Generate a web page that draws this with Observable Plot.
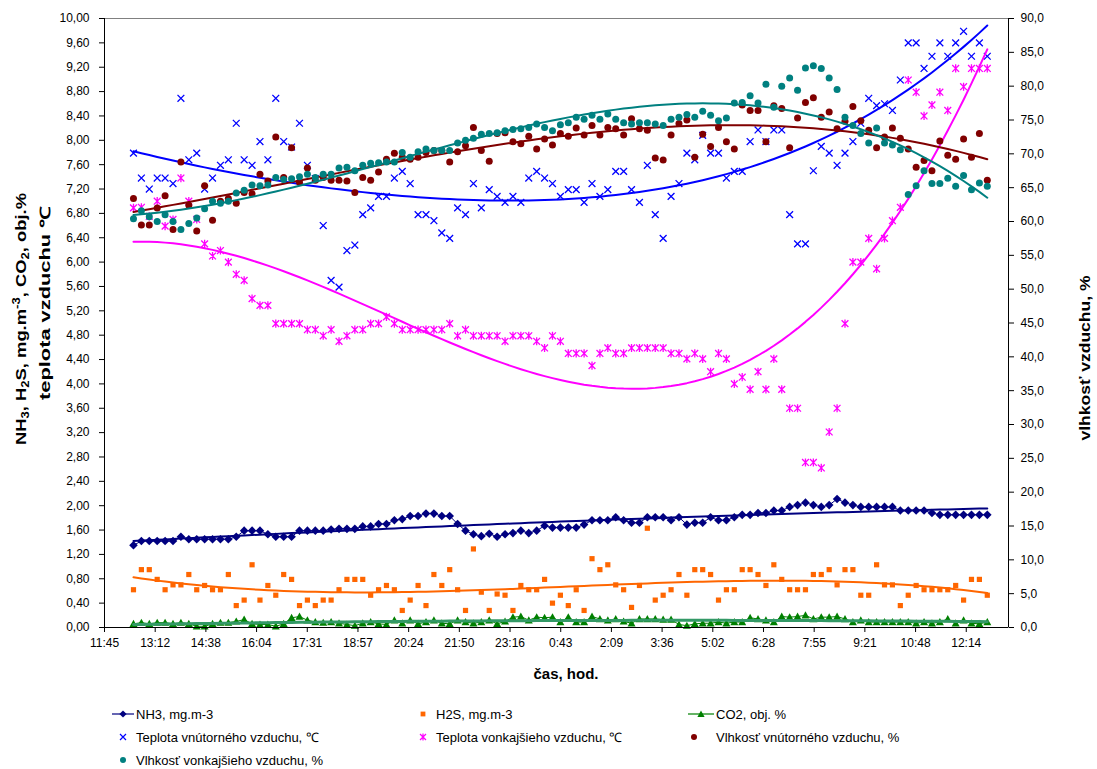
<!DOCTYPE html>
<html><head><meta charset="utf-8">
<script src="https://cdn.jsdelivr.net/npm/d3@7"></script>
<script src="https://cdn.jsdelivr.net/npm/@observablehq/plot@0.6"></script>
<style>
body{margin:0;background:#fff;}
#wrap{position:relative;width:1097px;height:769px;background:#fff;font-family:"Liberation Sans",Arial,sans-serif;}
#wrap svg{display:block;}
</style></head><body><div id="wrap"></div>
<script>
// ---- time axis (Excel day fractions) ----
const xTicks = [0.49,0.55,0.61,0.67,0.73,0.79,0.85,0.91,0.97,1.03,1.09,1.15,1.21,1.27,1.33,1.39,1.45,1.51];
const xTickLabels = ["11:45","13:12","14:38","16:04","17:31","18:57","20:24","21:50","23:16","0:43","2:09","3:36","5:02","6:28","7:55","9:21","10:48","12:14"];
const leftTicks = [0,0.4,0.8,1.2,1.6,2,2.4,2.8,3.2,3.6,4,4.4,4.8,5.2,5.6,6,6.4,6.8,7.2,7.6,8,8.4,8.8,9.2,9.6,10];
const humTicks = [0,5,10,15,20,25,30,35,40,45,50,55,60,65,70,75,80,85,90];
const firstTime = 0.5243, lastTime = 1.5349, nPoints = 109;

// ---- series ----
const nh3 = [1.35,1.42,1.42,1.42,1.42,1.42,1.49,1.45,1.45,1.45,
1.45,1.45,1.45,1.49,1.59,1.59,1.59,1.53,1.49,1.49,
1.49,1.59,1.59,1.59,1.59,1.61,1.62,1.62,1.62,1.66,
1.66,1.70,1.70,1.76,1.78,1.83,1.83,1.87,1.87,1.83,
1.83,1.70,1.59,1.53,1.50,1.54,1.49,1.53,1.55,1.59,
1.55,1.59,1.67,1.64,1.64,1.64,1.64,1.69,1.76,1.76,
1.76,1.81,1.76,1.72,1.72,1.81,1.81,1.81,1.76,1.81,
1.69,1.72,1.72,1.81,1.76,1.76,1.81,1.85,1.85,1.88,
1.88,1.92,1.92,1.98,2.01,2.05,2.01,1.98,2.01,2.11,
2.05,2.01,1.98,1.98,1.98,1.98,1.98,1.92,1.92,1.92,
1.92,1.88,1.85,1.85,1.85,1.85,1.85,1.85,1.85];
const h2s = [0.62,0.95,0.95,0.79,0.62,0.70,0.70,0.87,0.62,0.69,
0.62,0.62,0.87,0.36,0.45,1.03,0.45,0.69,0.53,0.87,
0.79,0.36,0.45,0.36,0.45,0.45,0.62,0.79,0.79,0.79,
0.53,0.62,0.69,0.62,0.28,0.45,0.69,0.36,0.87,0.69,
0.95,0.62,0.28,1.29,0.58,0.28,0.55,0.53,0.28,0.69,
0.62,0.62,0.79,0.40,0.53,0.36,0.62,0.28,1.13,0.95,
1.03,0.70,0.62,0.33,0.69,1.63,0.45,0.53,0.62,0.87,
0.53,0.95,0.95,0.87,0.45,0.62,0.62,0.95,0.95,0.87,
0.69,1.03,0.79,0.62,0.62,0.62,0.87,0.87,0.95,0.70,
0.95,0.95,0.53,0.53,1.03,0.70,0.70,0.36,0.53,0.69,
0.62,0.62,0.62,0.62,0.69,0.45,0.79,0.79,0.53];
const co2 = [0.06,0.08,0.06,0.08,0.08,0.06,0.08,0.06,0.02,0.02,
0.06,0.08,0.08,0.10,0.13,0.06,0.05,0.05,0.02,0.06,
0.16,0.18,0.12,0.09,0.08,0.09,0.07,0.05,0.03,0.07,
0.09,0.06,0.05,0.12,0.07,0.12,0.06,0.09,0.12,0.07,
0.06,0.12,0.09,0.07,0.09,0.12,0.06,0.10,0.17,0.18,
0.12,0.17,0.16,0.17,0.09,0.17,0.09,0.09,0.18,0.14,
0.12,0.14,0.10,0.07,0.14,0.14,0.14,0.13,0.13,0.05,
0.03,0.06,0.07,0.07,0.09,0.07,0.09,0.09,0.16,0.14,
0.12,0.09,0.18,0.17,0.18,0.20,0.14,0.17,0.17,0.18,
0.14,0.09,0.12,0.09,0.09,0.09,0.09,0.09,0.09,0.07,
0.09,0.07,0.09,0.14,0.07,0.12,0.07,0.06,0.09];
const tempIn = [7.79,7.38,7.20,7.38,7.38,7.29,8.69,7.68,7.79,7.20,
7.38,7.59,7.68,8.28,7.68,7.59,7.98,7.68,8.69,7.98,
7.89,8.28,7.59,7.37,6.60,5.70,5.59,6.19,6.28,6.78,
6.89,7.08,7.08,7.38,7.49,7.29,6.78,6.78,6.68,6.48,
6.39,6.89,6.78,7.29,6.89,7.19,7.08,6.98,7.08,6.98,
7.38,7.49,7.38,7.29,7.08,7.19,7.19,6.98,7.29,7.08,
7.19,7.49,7.49,7.19,6.98,7.59,6.78,6.39,7.08,7.29,
7.79,7.68,8.08,7.79,7.79,7.38,7.49,7.49,7.98,8.17,
7.98,8.17,8.17,6.78,6.30,6.30,7.50,7.90,7.79,7.59,
7.79,7.98,8.28,8.69,8.57,8.60,8.49,8.99,9.60,9.60,
9.18,9.38,9.60,9.38,9.60,9.79,9.38,9.60,9.38];
const tempOut = [6.89,6.90,6.75,7.00,6.59,6.70,7.38,7.00,6.70,6.30,
6.10,6.19,6.00,5.80,5.70,5.40,5.29,5.29,4.99,4.99,
4.99,4.99,4.89,4.89,4.79,4.89,4.70,4.79,4.89,4.89,
4.99,4.99,5.10,4.99,4.89,4.89,4.89,4.89,4.89,4.89,
4.99,4.79,4.89,4.79,4.79,4.79,4.79,4.70,4.79,4.79,
4.79,4.70,4.59,4.79,4.70,4.50,4.50,4.50,4.30,4.50,
4.59,4.50,4.50,4.59,4.59,4.59,4.59,4.59,4.50,4.50,
4.41,4.50,4.41,4.20,4.50,4.41,4.00,4.11,3.91,4.20,
3.91,4.41,3.91,3.60,3.60,2.71,2.71,2.62,3.21,3.60,
4.99,6.00,6.00,6.39,5.89,6.39,6.68,6.90,8.99,8.79,
8.40,8.58,8.79,8.49,9.18,8.88,9.18,9.18,9.18];
const humIn = [63.4,59.5,59.5,62.0,63.8,58.8,68.8,62.4,58.6,65.3,
60.2,63.0,63.4,62.7,64.3,64.1,67.0,66.0,72.5,66.5,
70.9,65.8,67.9,66.1,66.5,66.1,66.1,66.0,64.3,66.5,
66.1,67.3,69.2,70.1,69.5,69.2,69.5,70.2,70.5,70.5,
68.8,70.3,71.2,73.9,70.5,68.9,73.0,73.1,71.8,71.5,
72.6,70.7,72.2,71.3,73.0,72.6,73.8,72.8,74.2,72.8,
73.9,73.7,72.8,75.2,73.7,73.5,69.4,69.1,72.8,74.5,
75.0,69.5,72.9,71.1,73.9,71.8,70.7,77.2,76.4,76.4,
71.8,77.1,76.7,70.9,75.3,77.6,78.3,75.4,76.2,73.7,
74.8,77.0,74.9,73.5,70.9,72.5,73.8,72.3,70.7,68.0,
69.0,67.5,71.9,69.8,69.2,72.2,69.5,73.0,66.1];
const humOut = [60.4,61.6,60.7,60.0,61.0,60.0,58.8,59.7,60.5,61.9,
63.0,62.7,63.0,64.2,64.6,65.4,65.3,65.4,66.5,66.2,
66.3,66.6,67.0,66.5,67.0,67.0,67.9,68.0,67.5,68.3,
68.6,68.7,68.8,68.8,70.2,69.5,70.3,70.7,70.5,70.5,
70.5,71.6,72.0,72.3,72.9,73.0,73.1,73.4,73.6,73.7,
73.9,74.4,73.9,73.4,74.3,74.6,75.4,75.1,75.7,75.1,
75.9,75.1,74.6,74.4,74.6,74.6,74.4,74.2,75.1,75.4,
75.8,75.4,76.3,75.7,74.9,75.3,77.5,77.6,78.6,77.5,
80.3,76.9,80.0,81.2,79.4,82.7,83.0,82.6,81.2,79.5,
75.4,74.2,73.0,71.6,73.8,71.6,71.3,70.6,64.0,65.3,
67.5,65.6,65.6,66.4,65.2,66.8,64.7,65.7,65.2];

// ---- colours ----
const C = {nh3:"#000080", h2s:"#FF6600", co2:"#008000", co2Trend:"#339966",
  tIn:"#0000FF", tOut:"#FF00FF", hIn:"#800000", hOut:"#008080"};

// ---- table ----
const times = d3.range(nPoints).map(i => firstTime + i * (lastTime - firstTime) / (nPoints - 1));
const rows = times.map((t, i) => ({t, nh3: nh3[i], h2s: h2s[i], co2: co2[i],
  tIn: tempIn[i], tOut: tempOut[i], hIn: humIn[i], hOut: humOut[i]}));

// least-squares polynomial trendline (as Excel does)
function polyFit(xs, ys, deg) {
  const mx = d3.mean(xs), sx = (d3.max(xs) - d3.min(xs)) / 2;
  const m = deg + 1;
  const A = Array.from({length: m}, () => new Array(m + 1).fill(0));
  xs.forEach((x, k) => {
    const u = (x - mx) / sx;
    const p = d3.range(m).map(j => u ** j);
    for (let r = 0; r < m; r++) {
      for (let c = 0; c < m; c++) A[r][c] += p[r] * p[c];
      A[r][m] += p[r] * ys[k];
    }
  });
  for (let c = 0; c < m; c++) {
    let piv = c;
    for (let r = c + 1; r < m; r++) if (Math.abs(A[r][c]) > Math.abs(A[piv][c])) piv = r;
    [A[c], A[piv]] = [A[piv], A[c]];
    for (let r = 0; r < m; r++) if (r !== c) {
      const f = A[r][c] / A[c][c];
      for (let k = c; k <= m; k++) A[r][k] -= f * A[c][k];
    }
  }
  const coef = A.map((row, i) => row[m] / row[i]);
  return x => { const u = (x - mx) / sx; return coef.reduce((s, a, j) => s + a * u ** j, 0); };
}
function trend(key, deg) {
  const f = polyFit(times, rows.map(d => d[key]), deg);
  return times.map(t => ({t, v: f(t)}));
}
const trNH3 = trend("nh3", 2), trH2S = trend("h2s", 3), trCO2 = trend("co2", 2),
      trTIn = trend("tIn", 4), trTOut = trend("tOut", 3),
      trHIn = trend("hIn", 3), trHOut = trend("hOut", 3);

// ---- Excel-like marker symbols ----
const R = s => Math.sqrt(s / Math.PI);
const sym = {
  diamond: {draw(c, s) { const r = R(s); c.moveTo(0, -r); c.lineTo(r, 0); c.lineTo(0, r); c.lineTo(-r, 0); c.closePath(); }},
  square: {draw(c, s) { const r = R(s); c.rect(-r, -r, 2 * r, 2 * r); }},
  triangle: {draw(c, s) { const r = R(s); c.moveTo(0, -r); c.lineTo(r, r * 0.8); c.lineTo(-r, r * 0.8); c.closePath(); }},
  times: {draw(c, s) { const r = R(s); c.moveTo(-r, -r); c.lineTo(r, r); c.moveTo(-r, r); c.lineTo(r, -r); }},
  star: {draw(c, s) { const r = R(s); c.moveTo(-r, -r); c.lineTo(r, r); c.moveTo(-r, r); c.lineTo(r, -r); c.moveTo(0, -r * 1.2); c.lineTo(0, r * 1.2); }},
  circle: {draw(c, s) { const r = R(s); c.moveTo(r, 0); c.arc(0, 0, r, 0, 2 * Math.PI); }}
};
const fmtComma = (v, d) => v.toFixed(d).replace(".", ",");

const chart = Plot.plot({
  width: 1097, height: 690,
  marginLeft: 104, marginRight: 89, marginTop: 18, marginBottom: 63,
  style: {fontFamily: "'Liberation Sans', Arial, sans-serif", fontSize: "12px", background: "white", color: "black"},
  x: {domain: [0.49, 1.56]},
  y: {domain: [0, 10]},
  marks: [
    Plot.frame({stroke: "#808080"}),
    // NH3
    Plot.line(rows, {x: "t", y: "nh3", stroke: C.nh3, strokeWidth: 1}),
    Plot.dot(rows, {x: "t", y: "nh3", symbol: sym.diamond, r: 4.3, fill: C.nh3, stroke: "none"}),
    Plot.line(trNH3, {x: "t", y: "v", stroke: C.nh3, strokeWidth: 2}),
    // H2S
    Plot.dot(rows, {x: "t", y: "h2s", symbol: sym.square, r: 2.6, fill: C.h2s, stroke: "none"}),
    Plot.line(trH2S, {x: "t", y: "v", stroke: C.h2s, strokeWidth: 2}),
    // CO2
    Plot.line(rows, {x: "t", y: "co2", stroke: C.co2, strokeWidth: 1}),
    Plot.dot(rows, {x: "t", y: "co2", symbol: sym.triangle, r: 4, fill: C.co2, stroke: "none"}),
    Plot.line(trCO2, {x: "t", y: "v", stroke: C.co2Trend, strokeWidth: 3}),
    // temperatures
    Plot.dot(rows, {x: "t", y: "tIn", symbol: sym.times, r: 3.4, fill: "none", stroke: C.tIn, strokeWidth: 1.3}),
    Plot.line(trTIn, {x: "t", y: "v", stroke: C.tIn, strokeWidth: 2}),
    Plot.dot(rows, {x: "t", y: "tOut", symbol: sym.star, r: 3.4, fill: "none", stroke: C.tOut, strokeWidth: 1.3}),
    Plot.line(trTOut, {x: "t", y: "v", stroke: C.tOut, strokeWidth: 2}),
    // humidity (secondary axis: 90 % = 10 on primary)
    Plot.dot(rows, {x: "t", y: d => d.hIn / 9, symbol: sym.circle, r: 3.5, fill: C.hIn, stroke: "none"}),
    Plot.line(trHIn, {x: "t", y: d => d.v / 9, stroke: C.hIn, strokeWidth: 2}),
    Plot.dot(rows, {x: "t", y: d => d.hOut / 9, symbol: sym.circle, r: 3.5, fill: C.hOut, stroke: "none"}),
    Plot.line(trHOut, {x: "t", y: d => d.v / 9, stroke: C.hOut, strokeWidth: 2}),
    // axes
    Plot.axisY({ticks: leftTicks, tickFormat: d => fmtComma(d, 2), tickSize: 5, tickPadding: 10, label: null}),
    Plot.axisY({anchor: "right", ticks: humTicks.map(h => h / 9), tickFormat: d => fmtComma(d * 9, 1), tickSize: 5, tickPadding: 7, label: null}),
    Plot.axisX({ticks: xTicks, tickFormat: d => xTickLabels[xTicks.indexOf(d)], tickSize: 5, tickPadding: 6, label: null}),
    Plot.ruleX([0.49, 1.56], {stroke: "black"}),
    Plot.ruleY([0], {stroke: "black"})
  ]
});
document.getElementById("wrap").appendChild(chart);

// ---- axis titles ----
const svg = d3.select(chart);
function rotTitle(x, y, len, parts) {
  const t = svg.append("text")
    .attr("transform", `translate(${x},${y}) rotate(-90)`)
    .attr("text-anchor", "middle").attr("dominant-baseline", "central")
    .attr("font-weight", "bold").attr("font-size", 14).attr("fill", "black")
    .attr("textLength", len).attr("lengthAdjust", "spacingAndGlyphs");
  let shift = 0;
  parts.forEach(([s, k]) => {
    const want = k === "sub" ? 4 : k === "sup" ? -5 : 0;
    const sp = t.append("tspan").text(s).attr("dy", want - shift);
    if (k) sp.attr("font-size", 10);
    shift = want;
  });
}
rotTitle(21, 319, 252, [["NH"], ["3", "sub"], [", H"], ["2", "sub"], ["S, mg.m"], ["-3", "sup"], [", CO"], ["2", "sub"], [", obj.%"]]);
rotTitle(45, 303, 194, [["teplota vzduchu ℃"]]);
rotTitle(1085, 358, 165, [["vlhkosť vzduchu, %"]]);
svg.append("text").attr("x", 566).attr("y", 673).attr("text-anchor", "middle")
  .attr("dominant-baseline", "central").attr("font-weight", "bold").attr("font-size", 15)
  .attr("fill", "black").text("čas, hod.");

// ---- legend (below the chart) ----
const legendItems = [
  {label: "NH3, mg.m-3", sx: 123, tx: 136, row: 0, sym: sym.diamond, r: 3.6, fill: C.nh3, line: [112, 134], lineColor: C.nh3},
  {label: "H2S, mg.m-3", sx: 423, tx: 436, row: 0, sym: sym.square, r: 2.4, fill: C.h2s},
  {label: "CO2, obj. %", sx: 701, tx: 716, row: 0, sym: sym.triangle, r: 3.6, fill: C.co2, line: [688, 714], lineColor: C.co2},
  {label: "Teplota vnútorného vzduchu, ℃", sx: 123, tx: 136, row: 1, sym: sym.times, r: 3, stroke: C.tIn},
  {label: "Teplota vonkajšieho vzduchu, ℃", sx: 423, tx: 436, row: 1, sym: sym.star, r: 3, stroke: C.tOut},
  {label: "Vlhkosť vnútorného vzduchu, %", sx: 694, tx: 716, row: 1, sym: sym.circle, r: 3, fill: C.hIn},
  {label: "Vlhkosť vonkajšieho vzduchu, %", sx: 123, tx: 136, row: 2, sym: sym.circle, r: 3, fill: C.hOut}
];
const leg = d3.select("#wrap").append("svg").attr("width", 1097).attr("height", 79)
  .style("font-family", "'Liberation Sans', Arial, sans-serif");
const rowY = [24, 47, 70];
legendItems.forEach(it => {
  const y = rowY[it.row];
  if (it.line) leg.append("line").attr("x1", it.line[0]).attr("x2", it.line[1]).attr("y1", y).attr("y2", y)
    .attr("stroke", it.lineColor).attr("stroke-width", 1.2);
  const p = d3.path(); it.sym.draw(p, Math.PI * it.r * it.r);
  leg.append("path").attr("d", p.toString()).attr("transform", `translate(${it.sx},${y})`)
    .attr("fill", it.fill || "none").attr("stroke", it.stroke || "none").attr("stroke-width", 1.2);
  leg.append("text").attr("x", it.tx).attr("y", y).attr("dominant-baseline", "central")
    .attr("font-size", 13).attr("fill", "black").text(it.label);
});
</script></body></html>
